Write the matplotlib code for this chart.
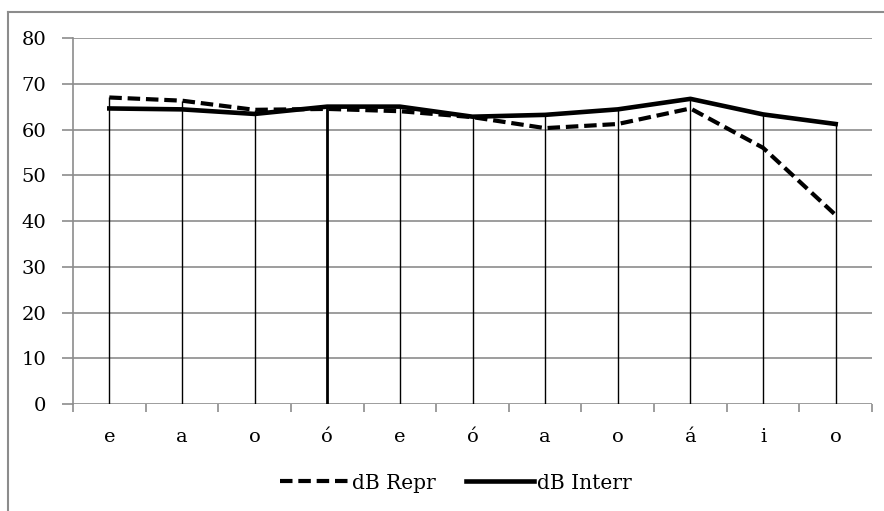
import matplotlib.pyplot as plt
import numpy as np
from matplotlib.lines import Line2D

# データ
categories = ['e', 'a', 'o', 'ó', 'e', 'ó', 'a', 'o', 'á', 'i', 'o']
db_repr = [67.0, 66.3, 64.3, 64.5, 64.0, 62.7, 60.3, 61.2, 64.6, 56.0, 41.3]
db_interr = [64.6, 64.4, 63.4, 65.0, 65.0, 62.8, 63.2, 64.4, 66.7, 63.3, 61.2]
y_ticks = [0, 10, 20, 30, 40, 50, 60, 70, 80]

plt.rcParams['font.family'] = ['DejaVu Serif']

fig = plt.figure(figsize=(8.84, 5.11), dpi=100)
ax = fig.add_axes([73 / 884, 1 - 404 / 511, (872 - 73) / 884, (404 - 38) / 511])

x = np.arange(len(categories))
ax.set_xlim(-0.5, len(categories) - 0.5)
ax.set_ylim(0, 80)

dash = (0, (3.0, 1.4))

# グリッド線
for t in y_ticks:
    ax.axhline(t, color='#8c8c8c', lw=1.2, zorder=1)

# 縦線（ドロップライン）
tops = np.maximum(db_repr, db_interr)
widths = [1.0] * len(categories)
widths[3] = 2.0
for xi, top, w in zip(x, tops, widths):
    ax.vlines(xi, 0, top, color='black', lw=w, zorder=2)

ax.plot(x, db_repr, color='black', lw=3.0, ls=dash, zorder=3)
ax.plot(x, db_interr, color='black', lw=3.3, zorder=3)

# 軸の設定
for s in ['top', 'right', 'bottom']:
    ax.spines[s].set_visible(False)
ax.spines['left'].set_color('#8c8c8c')
ax.spines['left'].set_linewidth(1.2)

ax.set_yticks(y_ticks)
ax.set_yticklabels([str(t) for t in y_ticks], fontsize=14)
ax.tick_params(axis='y', length=8, color='#8c8c8c', width=1.2, pad=11)

ax.set_xticks(x)
ax.set_xticklabels(categories, fontsize=14)
ax.set_xticks(np.arange(-0.5, len(categories)), minor=True)
ax.tick_params(axis='x', which='major', length=0, pad=17)
ax.tick_params(axis='x', which='minor', length=6, color='#8c8c8c', width=1.2)

# 凡例
handles = [
    Line2D([], [], color='black', lw=3.0, ls=dash),
    Line2D([], [], color='black', lw=3.3),
]
fig.legend(handles, ['dB Repr', 'dB Interr'], loc='center', ncol=2,
           bbox_to_anchor=(456 / 884, 1 - 483 / 511), frameon=False,
           handlelength=3.4, handletextpad=0.15, columnspacing=1.5,
           prop={'size': 14.5})

# 外枠
fig.add_artist(Line2D([8 / 884, 1], [1 - 12 / 511] * 2, color='#8c8c8c', lw=1.5,
                      transform=fig.transFigure))
fig.add_artist(Line2D([8 / 884] * 2, [0, 1 - 12 / 511], color='#8c8c8c', lw=1.5,
                      transform=fig.transFigure))

fig.savefig('out.png', dpi=100)
